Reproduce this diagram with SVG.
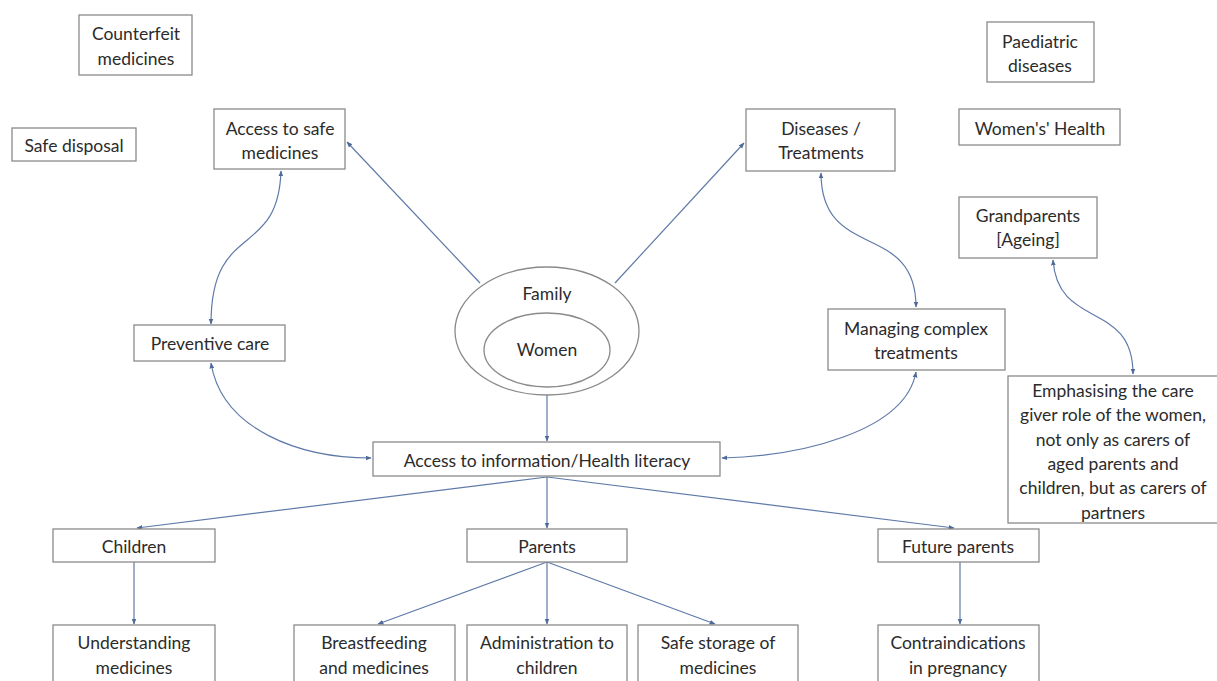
<svg xmlns="http://www.w3.org/2000/svg" width="1217" height="681" viewBox="0 0 1217 681">
<style>
.box{fill:#ffffff;stroke:#8a8a8a;stroke-width:1.3}
.t{font-family:Lato,"Liberation Sans",sans-serif;font-size:17.5px;fill:#2b2b2b;text-anchor:middle;dominant-baseline:central}
.c{fill:none;stroke:#5f7aa8;stroke-width:1.2}
.ce{marker-end:url(#ah)}
.cb{marker-start:url(#ah);marker-end:url(#ah)}
</style>
<defs>
<marker id="ah" viewBox="0 0 10 10" refX="9" refY="5" markerWidth="6" markerHeight="6" orient="auto-start-reverse" markerUnits="userSpaceOnUse">
<path d="M0,1 L10,5 L0,9 z" fill="#4f6a99"/>
</marker>
</defs>
<rect width="1217" height="681" fill="#ffffff"/>

<g id="connectors">
<line class="c ce" x1="480" y1="283" x2="347" y2="142"/>
<line class="c ce" x1="615" y1="283" x2="744" y2="143"/>
<line class="c ce" x1="547" y1="395" x2="547" y2="441"/>
<path class="c cb" d="M281,171 C278,260 211,220 211,324"/>
<path class="c cb" d="M211,363 C222,430 300,458 371,458"/>
<path class="c cb" d="M821,173 C821,262 916,220 916,307"/>
<path class="c cb" d="M916,372 C905,432 800,456 722,458"/>
<path class="c cb" d="M1053,260 C1058,330 1133,300 1133,374"/>
<line class="c ce" x1="547" y1="477" x2="137" y2="528"/>
<line class="c ce" x1="547" y1="477" x2="547" y2="528"/>
<line class="c ce" x1="547" y1="477" x2="954" y2="528"/>
<line class="c ce" x1="134" y1="562" x2="134" y2="624"/>
<line class="c ce" x1="547" y1="562" x2="378" y2="624"/>
<line class="c ce" x1="547" y1="562" x2="547" y2="624"/>
<line class="c ce" x1="547" y1="562" x2="715" y2="624"/>
<line class="c ce" x1="960" y1="562" x2="960" y2="624"/>
</g>

<g id="counterfeit"><rect class="box" x="79" y="15" width="113" height="60"/><text class="t" x="136" y="33">Counterfeit</text><text class="t" x="136" y="58">medicines</text></g>
<g id="safe-disposal"><rect class="box" x="12" y="128" width="124" height="33"/><text class="t" x="74" y="145">Safe disposal</text></g>
<g id="access-safe"><rect class="box" x="214" y="109" width="131" height="60"/><text class="t" x="280" y="128">Access to safe</text><text class="t" x="280" y="152">medicines</text></g>
<g id="paediatric"><rect class="box" x="987" y="22" width="107" height="60"/><text class="t" x="1040" y="41">Paediatric</text><text class="t" x="1040" y="65">diseases</text></g>
<g id="womens-health"><rect class="box" x="959" y="109" width="161" height="36"/><text class="t" x="1040" y="128">Women's' Health</text></g>
<g id="diseases"><rect class="box" x="746" y="109" width="149" height="62"/><text class="t" x="821" y="128">Diseases /</text><text class="t" x="821" y="152">Treatments</text></g>
<g id="grandparents"><rect class="box" x="959" y="197" width="138" height="61"/><text class="t" x="1028" y="215">Grandparents</text><text class="t" x="1028" y="239">[Ageing]</text></g>
<g id="preventive"><rect class="box" x="134" y="325" width="151" height="36"/><text class="t" x="210" y="343">Preventive care</text></g>
<g id="family"><ellipse cx="547" cy="331" rx="92" ry="64" fill="#ffffff" stroke="#8a8a8a" stroke-width="1.3"/><text class="t" x="547" y="293">Family</text></g>
<g id="women"><ellipse cx="547" cy="350" rx="63" ry="37" fill="#ffffff" stroke="#8a8a8a" stroke-width="1.3"/><text class="t" x="547" y="349">Women</text></g>
<g id="managing"><rect class="box" x="828" y="309" width="177" height="61"/><text class="t" x="916" y="328">Managing complex</text><text class="t" x="916" y="352">treatments</text></g>
<g id="emphasising"><rect class="box" x="1008" y="376" width="210" height="147"/>
<text class="t" x="1113" y="390">Emphasising the care</text>
<text class="t" x="1113" y="414.5">giver role of the women,</text>
<text class="t" x="1113" y="439">not only as carers of</text>
<text class="t" x="1113" y="463">aged parents and</text>
<text class="t" x="1113" y="487.5">children, but as carers of</text>
<text class="t" x="1113" y="512">partners</text></g>
<g id="access-info"><rect class="box" x="373" y="442" width="347" height="34"/><text class="t" x="547" y="460">Access to information/Health literacy</text></g>
<g id="children"><rect class="box" x="53" y="529" width="162" height="33"/><text class="t" x="134" y="546">Children</text></g>
<g id="parents"><rect class="box" x="467" y="529" width="160" height="33"/><text class="t" x="547" y="546">Parents</text></g>
<g id="future-parents"><rect class="box" x="878" y="529" width="161" height="33"/><text class="t" x="958" y="546">Future parents</text></g>
<g id="understanding"><rect class="box" x="53" y="625" width="162" height="70"/><text class="t" x="134" y="642">Understanding</text><text class="t" x="134" y="667">medicines</text></g>
<g id="breastfeeding"><rect class="box" x="294" y="625" width="161" height="70"/><text class="t" x="374" y="642">Breastfeeding</text><text class="t" x="374" y="667">and medicines</text></g>
<g id="administration"><rect class="box" x="467" y="625" width="160" height="70"/><text class="t" x="547" y="642">Administration to</text><text class="t" x="547" y="667">children</text></g>
<g id="safe-storage"><rect class="box" x="638" y="625" width="160" height="70"/><text class="t" x="718" y="642">Safe storage of</text><text class="t" x="718" y="667">medicines</text></g>
<g id="contraindications"><rect class="box" x="878" y="625" width="161" height="70"/><text class="t" x="958" y="642">Contraindications</text><text class="t" x="958" y="667">in pregnancy</text></g>
</svg>
